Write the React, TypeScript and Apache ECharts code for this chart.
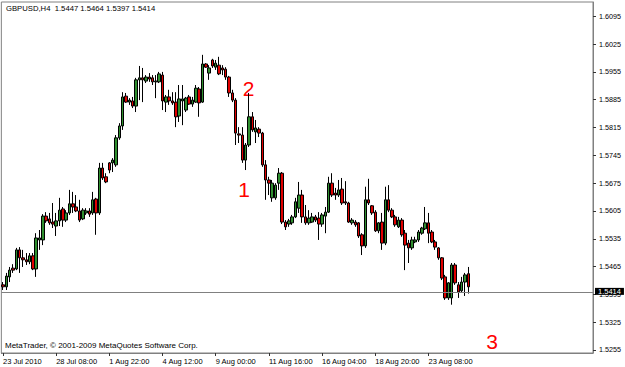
import React, { useEffect, useRef } from 'react';
import * as echarts from 'echarts';

const symbolName = 'GBPUSD,H4';
const copyrightText = 'MetaTrader, © 2001-2009 MetaQuotes Software Corp.';

const opens = [
  1.5419, 1.5414, 1.5439, 1.5461, 1.5459, 1.5507, 1.5487, 1.5482, 1.5477, 1.5492,
  1.5459, 1.5532, 1.5532, 1.5592, 1.5585, 1.5577, 1.5567, 1.5580, 1.5610, 1.5582,
  1.5600, 1.5623, 1.5615, 1.5605, 1.5585, 1.5600, 1.5605, 1.5600, 1.5635, 1.5600,
  1.5713, 1.5691, 1.5726, 1.5726, 1.5721, 1.5789, 1.5819, 1.5894, 1.5879, 1.5882,
  1.5869, 1.5935, 1.5940, 1.5932, 1.5942, 1.5940, 1.5930, 1.5930, 1.5947, 1.5879,
  1.5892, 1.5882, 1.5879, 1.5844, 1.5882, 1.5859, 1.5892, 1.5874, 1.5879, 1.5912,
  1.5879, 1.5975, 1.5952, 1.5985, 1.5967, 1.5972, 1.5965, 1.5962, 1.5942, 1.5902,
  1.5884, 1.5799, 1.5796, 1.5733, 1.5771, 1.5842, 1.5804, 1.5811, 1.5801, 1.5721,
  1.5683, 1.5638, 1.5638, 1.5675, 1.5700, 1.5577, 1.5572, 1.5575, 1.5590, 1.5612,
  1.5645, 1.5590, 1.5575, 1.5577, 1.5590, 1.5587, 1.5572, 1.5592, 1.5602, 1.5675,
  1.5650, 1.5645, 1.5660, 1.5628, 1.5625, 1.5575, 1.5577, 1.5575, 1.5545, 1.5517,
  1.5633, 1.5618, 1.5602, 1.5555, 1.5577, 1.5524, 1.5633, 1.5607, 1.5590, 1.5565,
  1.5582, 1.5549, 1.5524, 1.5512, 1.5527, 1.5532, 1.5549, 1.5560, 1.5575, 1.5552,
  1.5527, 1.5512, 1.5487, 1.5439, 1.5386, 1.5386, 1.5469, 1.5419, 1.5404, 1.5426,
  1.5447,
];
const closes = [
  1.5414, 1.5441, 1.5456, 1.5456, 1.5507, 1.5487, 1.5482, 1.5477, 1.5492, 1.5459,
  1.5537, 1.5537, 1.5592, 1.5580, 1.5575, 1.5572, 1.5580, 1.5607, 1.5582, 1.5600,
  1.5623, 1.5615, 1.5605, 1.5582, 1.5607, 1.5605, 1.5597, 1.5633, 1.5600, 1.5713,
  1.5688, 1.5678, 1.5708, 1.5733, 1.5789, 1.5819, 1.5892, 1.5879, 1.5884, 1.5869,
  1.5935, 1.5940, 1.5935, 1.5942, 1.5937, 1.5930, 1.5932, 1.5950, 1.5882, 1.5892,
  1.5882, 1.5877, 1.5842, 1.5887, 1.5887, 1.5889, 1.5874, 1.5884, 1.5914, 1.5877,
  1.5975, 1.5967, 1.5965, 1.5970, 1.5977, 1.5950, 1.5960, 1.5942, 1.5902, 1.5884,
  1.5801, 1.5796, 1.5733, 1.5771, 1.5842, 1.5809, 1.5814, 1.5801, 1.5721, 1.5683,
  1.5675, 1.5675, 1.5670, 1.5700, 1.5577, 1.5565, 1.5580, 1.5590, 1.5628, 1.5645,
  1.5590, 1.5575, 1.5587, 1.5590, 1.5582, 1.5572, 1.5595, 1.5602, 1.5675, 1.5645,
  1.5645, 1.5658, 1.5625, 1.5625, 1.5577, 1.5582, 1.5570, 1.5542, 1.5517, 1.5633,
  1.5625, 1.5600, 1.5555, 1.5575, 1.5524, 1.5633, 1.5607, 1.5590, 1.5570, 1.5582,
  1.5545, 1.5519, 1.5512, 1.5532, 1.5532, 1.5552, 1.5562, 1.5575, 1.5549, 1.5527,
  1.5514, 1.5487, 1.5436, 1.5386, 1.5424, 1.5469, 1.5424, 1.5401, 1.5426, 1.5444,
  1.5414,
];
const lows = [
  1.5406, 1.5406, 1.5426, 1.5449, 1.5456, 1.5449, 1.5464, 1.5469, 1.5471, 1.5456,
  1.5439, 1.5507, 1.5519, 1.5575, 1.5570, 1.5562, 1.5542, 1.5567, 1.5565, 1.5577,
  1.5595, 1.5600, 1.5602, 1.5577, 1.5582, 1.5595, 1.5590, 1.5595, 1.5545, 1.5595,
  1.5683, 1.5675, 1.5700, 1.5703, 1.5716, 1.5784, 1.5809, 1.5877, 1.5872, 1.5864,
  1.5854, 1.5884, 1.5879, 1.5927, 1.5930, 1.5922, 1.5889, 1.5927, 1.5859, 1.5854,
  1.5872, 1.5872, 1.5816, 1.5829, 1.5821, 1.5854, 1.5872, 1.5867, 1.5877, 1.5842,
  1.5877, 1.5965, 1.5935, 1.5965, 1.5960, 1.5947, 1.5947, 1.5935, 1.5892, 1.5879,
  1.5771, 1.5776, 1.5726, 1.5708, 1.5766, 1.5804, 1.5776, 1.5791, 1.5716, 1.5633,
  1.5645, 1.5628, 1.5633, 1.5658, 1.5572, 1.5557, 1.5565, 1.5570, 1.5587, 1.5600,
  1.5575, 1.5570, 1.5570, 1.5575, 1.5577, 1.5532, 1.5565, 1.5549, 1.5600, 1.5640,
  1.5633, 1.5640, 1.5620, 1.5620, 1.5575, 1.5570, 1.5565, 1.5537, 1.5494, 1.5512,
  1.5620, 1.5595, 1.5552, 1.5549, 1.5507, 1.5519, 1.5602, 1.5587, 1.5565, 1.5562,
  1.5540, 1.5456, 1.5474, 1.5507, 1.5524, 1.5527, 1.5545, 1.5557, 1.5524, 1.5524,
  1.5507, 1.5482, 1.5431, 1.5381, 1.5381, 1.5369, 1.5419, 1.5386, 1.5399, 1.5391,
  1.5397,
];
const highs = [
  1.5426, 1.5449, 1.5464, 1.5471, 1.5512, 1.5514, 1.5507, 1.5499, 1.5499, 1.5499,
  1.5549, 1.5557, 1.5597, 1.5602, 1.5600, 1.5625, 1.5600, 1.5638, 1.5615, 1.5607,
  1.5658, 1.5653, 1.5645, 1.5633, 1.5612, 1.5612, 1.5612, 1.5653, 1.5638, 1.5726,
  1.5726, 1.5700, 1.5728, 1.5738, 1.5796, 1.5826, 1.5904, 1.5902, 1.5889, 1.5892,
  1.5940, 1.5970, 1.5965, 1.5947, 1.5952, 1.5947, 1.5947, 1.5955, 1.5955, 1.5897,
  1.5910, 1.5904, 1.5904, 1.5922, 1.5922, 1.5892, 1.5897, 1.5892, 1.5922, 1.5917,
  1.5998, 1.5977, 1.5972, 1.5988, 1.5985, 1.5993, 1.5972, 1.5967, 1.5945, 1.5910,
  1.5889, 1.5816, 1.5816, 1.5776, 1.5902, 1.5854, 1.5834, 1.5816, 1.5804, 1.5733,
  1.5691, 1.5683, 1.5675, 1.5713, 1.5703, 1.5582, 1.5585, 1.5595, 1.5638, 1.5678,
  1.5658, 1.5620, 1.5607, 1.5600, 1.5595, 1.5602, 1.5600, 1.5615, 1.5691, 1.5700,
  1.5663, 1.5683, 1.5688, 1.5680, 1.5628, 1.5587, 1.5582, 1.5577, 1.5549, 1.5666,
  1.5686, 1.5620, 1.5607, 1.5577, 1.5600, 1.5666, 1.5670, 1.5612, 1.5595, 1.5590,
  1.5587, 1.5557, 1.5532, 1.5540, 1.5540, 1.5557, 1.5565, 1.5615, 1.5600, 1.5557,
  1.5532, 1.5514, 1.5489, 1.5444, 1.5426, 1.5474, 1.5474, 1.5426, 1.5439, 1.5449,
  1.5464,
];

const slotCount = 178;
const xTickEvery = 16;
const xTickLabels = [
  '23 Jul 2010', '28 Jul 08:00', '1 Aug 22:00', '4 Aug 12:00', '9 Aug 00:00',
  '11 Aug 16:00', '16 Aug 04:00', '18 Aug 20:00', '23 Aug 08:00',
];
const priceTicks = [
  1.5255, 1.5325, 1.5395, 1.5465, 1.5535, 1.5605, 1.5675,
  1.5745, 1.5815, 1.5885, 1.5955, 1.6025, 1.6095,
];
const priceMin = 1.52474;
const priceMax = 1.6131;

const FONT = '"Liberation Sans", Arial, sans-serif';

export default function App() {
  const ref = useRef<HTMLDivElement>(null);

  useEffect(() => {
    if (!ref.current) return;
    const chart = echarts.init(ref.current, undefined, { renderer: 'svg' });
    const last = opens.length - 1;
    const lastClose = closes[last];
    const header = `${symbolName}  ${opens[last].toFixed(4)} ${highs[last].toFixed(4)} ${lows[last].toFixed(4)} ${closes[last].toFixed(4)}`;
    const isTick = (idx: number) => idx % xTickEvery === 0 && idx / xTickEvery < xTickLabels.length;
    const frame = '#808080';

    chart.setOption({
      animation: false,
      backgroundColor: '#ffffff',
      grid: {
        left: 1, right: 32, top: 2, bottom: 14,
        show: true, borderColor: frame, borderWidth: 1, backgroundColor: '#ffffff',
      },
      xAxis: {
        type: 'category',
        data: Array.from({ length: slotCount }, (_, i) => String(i)),
        boundaryGap: true,
        axisLine: { show: true, lineStyle: { color: frame, width: 1 } },
        axisTick: { show: true, alignWithLabel: true, interval: isTick, length: 3, lineStyle: { color: '#333' } },
        axisLabel: {
          interval: isTick,
          formatter: (_v: string, i: number) => (isTick(i) ? xTickLabels[i / xTickEvery] : ''),
          align: 'left', margin: 4, fontSize: 7.5, color: '#000', fontFamily: FONT,
          hideOverlap: false,
        },
        splitLine: { show: false },
      },
      yAxis: {
        type: 'value', position: 'right', min: priceMin, max: priceMax, scale: true,
        axisLine: { show: true, lineStyle: { color: frame, width: 1 } },
        axisTick: { show: true, length: 3, customValues: priceTicks, lineStyle: { color: '#333' } },
        axisLabel: {
          customValues: priceTicks,
          formatter: (v: number) => v.toFixed(4),
          margin: 6, fontSize: 7.2, lineHeight: 6, color: '#000', fontFamily: FONT,
        },
        splitLine: { show: false },
      },
      series: [
        {
          type: 'candlestick',
          data: opens.map((o, i) => [o, closes[i], lows[i], highs[i]]),
          barWidth: 3,
          itemStyle: {
            color: '#2f8f2f', color0: '#e00000',
            borderColor: '#000', borderColor0: '#000', borderWidth: 1,
          },
          markLine: {
            silent: true,
            symbol: ['none', 'none'],
            lineStyle: { color: '#808080', width: 1, type: 'solid' },
            label: {
              show: true, position: 'end', distance: 2, offset: [0, -1],
              formatter: lastClose.toFixed(4),
              color: '#fff', backgroundColor: '#000', padding: [0, 3, 0, 3],
              fontSize: 7.5, lineHeight: 7, fontFamily: FONT,
            },
            data: [{ yAxis: lastClose }],
          },
        },
      ],
      graphic: [
        { type: 'text', x: 6, y: 8, style: { text: header, fontSize: 7.7, fontFamily: FONT, fill: '#000', verticalAlign: 'middle' } },
        { type: 'text', x: 5, y: 345.5, style: { text: copyrightText, fontSize: 8, fontFamily: FONT, fill: '#000', verticalAlign: 'middle' } },
        { type: 'text', x: 248.5, y: 88, style: { text: '2', fontSize: 21, fontFamily: FONT, fill: '#ff0000', align: 'center', verticalAlign: 'middle' } },
        { type: 'text', x: 244, y: 189, style: { text: '1', fontSize: 21, fontFamily: FONT, fill: '#ff0000', align: 'center', verticalAlign: 'middle' } },
        { type: 'text', x: 492, y: 341, style: { text: '3', fontSize: 21, fontFamily: FONT, fill: '#ff0000', align: 'center', verticalAlign: 'middle' } },
      ],
    });
    return () => chart.dispose();
  }, []);

  return (
    <div
      ref={ref}
      style={{ position: 'fixed', left: 0, top: 0, width: 625, height: 367, background: '#fff' }}
    />
  );
}
